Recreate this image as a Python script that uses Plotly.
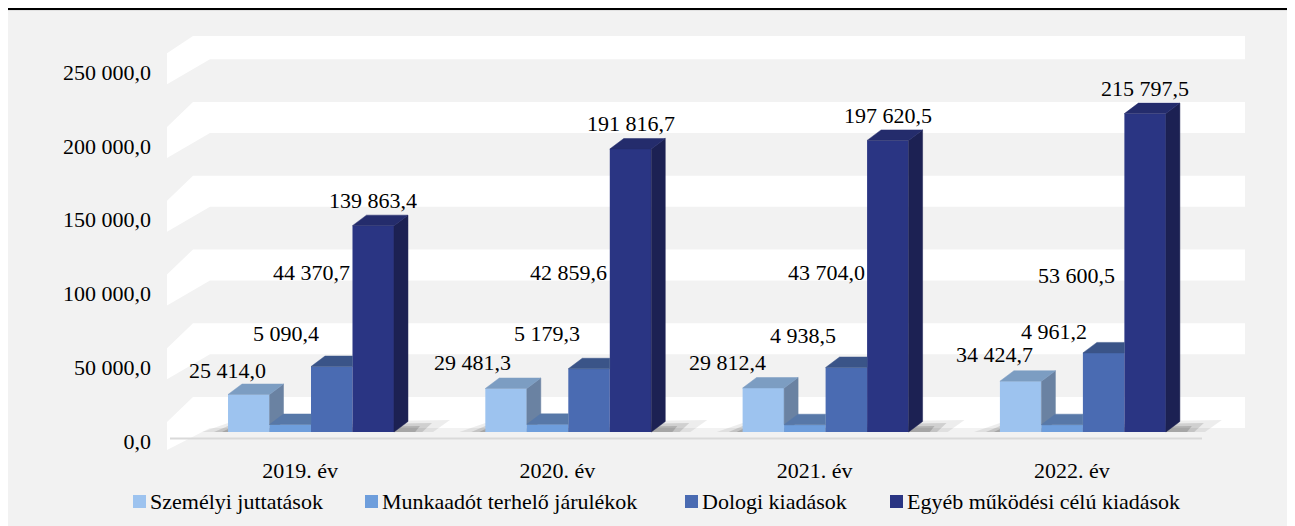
import plotly.graph_objects as go

# ---- data -------------------------------------------------------------
years = ["2019. év", "2020. év", "2021. év", "2022. év"]
series_names = [
    "Személyi juttatások",
    "Munkaadót terhelő járulékok",
    "Dologi kiadások",
    "Egyéb működési célú kiadások",
]
szemelyi = [25414.0, 29481.3, 29812.4, 34424.7]
munkaadot = [5090.4, 5179.3, 4938.5, 4961.2]
dologi = [44370.7, 42859.6, 43704.0, 53600.5]
egyeb = [139863.4, 191816.7, 197620.5, 215797.5]
y_ticks = [0, 50000, 100000, 150000, 200000, 250000]

series = [szemelyi, munkaadot, dologi, egyeb]

# ---- styling ----------------------------------------------------------
front_colors = ["#9DC3EF", "#6E9EDC", "#4A6BB2", "#2A3583"]
top_colors = ["#7C9DC2", "#5778A8", "#3A5488", "#242C6C"]
side_colors = ["#6A82A2", "#4D6A96", "#30467A", "#1C2153"]
FONT = "Liberation Serif, DejaVu Serif, serif"

# label placement: offset from bar centre (category units) and height (axis units);
# None -> just above the bar
label_dx = [
    [-0.082, -0.132, -0.140, -0.101],
    [-0.016, -0.004, -0.008, -0.031],
    [-0.078, -0.078, -0.078, -0.105],
    [0.0, 0.0, 0.0, 0.0],
]
label_y = [
    [42000, 46800, 46800, 52200],
    [67100, 67100, 65700, 67800],
    [107800, 108400, 107800, 106400],
    None,
]

# ---- geometry (screen pixels; the page body adds an 8px margin) ---------
OFF = 8
W_FIG, H_FIG = 1295, 526
PLOT_L, PLOT_R, PLOT_T, PLOT_B = 160, 1250, 36, 450
X0_PX, Y0_PX = 311, 432
PX_PER_CAT = 257.3
PX_PER_UNIT = 1.4754 / 1000


def dx_px(p):
    return p / PX_PER_CAT


def dy_px(p):
    return p / PX_PER_UNIT


def to_x(px):
    return (px - X0_PX) / PX_PER_CAT


def to_y(py):
    return (Y0_PX - py) / PX_PER_UNIT


def paper_x(px):
    return (px - PLOT_L) / (PLOT_R - PLOT_L)


def paper_y(py):
    return (PLOT_B - py) / (PLOT_B - PLOT_T)


x_range = [to_x(PLOT_L), to_x(PLOT_R)]
y_range = [to_y(PLOT_B), to_y(PLOT_T)]

BARGAP = 0.355
BAR_W = (1 - BARGAP) / len(series)
DEPTH_X = dx_px(14)
DEPTH_Y = dy_px(10.5)


def fmt(v):
    return f"{v:,.1f}".replace(",", " ").replace(".", ",")


def clip_above(poly, c):
    out = []
    n = len(poly)
    for k in range(n):
        p, q = poly[k], poly[(k + 1) % n]
        pin, qin = p[1] >= c, q[1] >= c
        if pin:
            out.append(p)
        if pin != qin:
            t = (c - p[1]) / (q[1] - p[1])
            out.append((p[0] + t * (q[0] - p[0]), c))
    return out


def poly_xy(polys):
    xs, ys = [], []
    for poly in polys:
        if len(poly) < 3:
            continue
        xs += [p[0] for p in poly] + [poly[0][0], None]
        ys += [p[1] for p in poly] + [poly[0][1], None]
    return xs, ys


def path_of(pts):
    return "M " + " L ".join(f"{x},{y}" for x, y in pts) + " Z"


cats = list(range(len(years)))
fig = go.Figure()

# front faces
for i, vals in enumerate(series):
    fig.add_trace(go.Bar(
        x=cats, y=vals, name=series_names[i],
        marker=dict(color=front_colors[i], line_width=0),
        showlegend=False, hoverinfo="skip",
    ))

# top and side faces of the pseudo-3D columns
for i, vals in enumerate(series):
    tops, sides = [], []
    for g in cats:
        l = g + (i - len(series) / 2) * BAR_W
        r = l + BAR_W
        h = vals[g]
        hn = series[i + 1][g] if i + 1 < len(series) else 0.0
        side = [(r, 0), (r + DEPTH_X, DEPTH_Y), (r + DEPTH_X, h + DEPTH_Y), (r, h)]
        if hn > 0:
            side = clip_above(side, hn)
        sides.append(side)
        if hn >= h + DEPTH_Y:
            top = [(l, h), (r, h), (r, h + DEPTH_Y), (l + DEPTH_X, h + DEPTH_Y)]
        elif hn > h:
            top = [(l, h), (r, h), (r, hn), (r + (hn - h) / DEPTH_Y * DEPTH_X, hn),
                   (r + DEPTH_X, h + DEPTH_Y), (l + DEPTH_X, h + DEPTH_Y)]
        else:
            top = [(l, h), (r, h), (r + DEPTH_X, h + DEPTH_Y), (l + DEPTH_X, h + DEPTH_Y)]
        tops.append(top)
    for polys, col in ((sides, side_colors[i]), (tops, top_colors[i])):
        xs, ys = poly_xy(polys)
        fig.add_trace(go.Scatter(
            x=xs, y=ys, mode="lines", fill="toself", fillcolor=col,
            line=dict(color=col, width=0.5), showlegend=False, hoverinfo="skip",
        ))

# data labels
annotations = []
for i, vals in enumerate(series):
    for g in cats:
        xc = g + (i - len(series) / 2 + 0.5) * BAR_W + label_dx[i][g]
        yc = label_y[i][g] if label_y[i] is not None else vals[g] + dy_px(25)
        annotations.append(dict(
            x=xc, y=yc, xref="x", yref="y", text=fmt(vals[g]), showarrow=False,
            xanchor="center", yanchor="middle",
            font=dict(family=FONT, size=22, color="#000000"),
        ))

# manual legend
legend_sq = [(133, 146), (365, 378), (685, 698), (890, 903)]
for i, name in enumerate(series_names):
    x0, x1 = legend_sq[i]
    annotations.append(dict(
        x=paper_x(x1 + 2), y=paper_y(501), xref="paper", yref="paper",
        text=name, showarrow=False, xanchor="left", yanchor="middle",
        font=dict(family=FONT, size=22, color="#000000"),
    ))

shapes = [
    # chart box and title rule
    dict(type="rect", xref="paper", yref="paper", layer="below",
         x0=paper_x(3), x1=paper_x(W_FIG + 20), y0=paper_y(10), y1=paper_y(H_FIG + 20),
         fillcolor="#F2F2F2", line=dict(color="#D0D0D0", width=1)),
    dict(type="line", xref="paper", yref="paper", layer="below",
         x0=paper_x(0), x1=paper_x(W_FIG + 20), y0=paper_y(9), y1=paper_y(9),
         line=dict(color="#000000", width=2)),
]

# white 3D gridline planks
for v in y_ticks:
    pts = [
        (to_x(167), v + dy_px(10)),
        (to_x(193), v + dy_px(35)),
        (to_x(1245), v + dy_px(35)),
        (to_x(1245), v + dy_px(4)),
        (to_x(210), v + dy_px(4)),
        (to_x(167), v - dy_px(21)),
    ]
    pts = [(x, min(max(y, y_range[0]), y_range[1])) for x, y in pts]
    shapes.append(dict(type="path", xref="x", yref="y", layer="below", path=path_of(pts),
                       fillcolor="#FFFFFF", line=dict(width=0)))

# floor front edge
shapes.append(dict(type="line", xref="x", yref="y", layer="below",
                   x0=to_x(170), x1=to_x(1202), y0=to_y(438.5), y1=to_y(438.5),
                   line=dict(color="#D9D9D9", width=2)))

# soft floor shadows
for g in cats:
    left = g - len(series) / 2 * BAR_W
    right = g + len(series) / 2 * BAR_W + DEPTH_X
    for (lo, ro, rt, alpha) in ((26, 42, 12, 0.07), (14, 24, 9, 0.12), (6, 12, 6, 0.15)):
        pts = [
            (left - dx_px(lo), 0),
            (left, dy_px(rt - 3)),
            (right + dx_px(ro), dy_px(rt)),
            (right + dx_px(ro * 0.6), 0),
        ]
        shapes.append(dict(type="path", xref="x", yref="y", layer="below", path=path_of(pts),
                           fillcolor=f"rgba(0,0,0,{alpha})", line=dict(width=0)))

for i in range(len(series)):
    x0, x1 = legend_sq[i]
    shapes.append(dict(type="rect", xref="paper", yref="paper",
                       x0=paper_x(x0), x1=paper_x(x1), y0=paper_y(508), y1=paper_y(495),
                       fillcolor=front_colors[i], line=dict(width=0)))

fig.update_layout(
    width=W_FIG, height=H_FIG,
    margin=dict(l=PLOT_L - OFF, r=W_FIG + OFF - PLOT_R, t=PLOT_T - OFF,
                b=H_FIG + OFF - PLOT_B, autoexpand=False),
    paper_bgcolor="#FFFFFF", plot_bgcolor="rgba(0,0,0,0)",
    barmode="group", bargap=BARGAP, bargroupgap=0,
    showlegend=False,
    font=dict(family=FONT, size=22, color="#000000"),
    xaxis=dict(
        range=x_range, tickvals=cats, ticktext=years, showgrid=False, zeroline=False,
        showline=False, ticks="", ticklabelshift=-11, ticklabelstandoff=5,
        tickfont=dict(family=FONT, size=22, color="#000000"), fixedrange=True,
    ),
    yaxis=dict(
        range=y_range, tickvals=y_ticks, ticktext=[fmt(v) for v in y_ticks],
        showgrid=False, zeroline=False, showline=False, ticks="",
        ticklabelshift=9, ticklabelstandoff=8,
        tickfont=dict(family=FONT, size=22, color="#000000"), fixedrange=True,
    ),
    annotations=annotations,
    shapes=shapes,
)

fig.write_html("out.html")
